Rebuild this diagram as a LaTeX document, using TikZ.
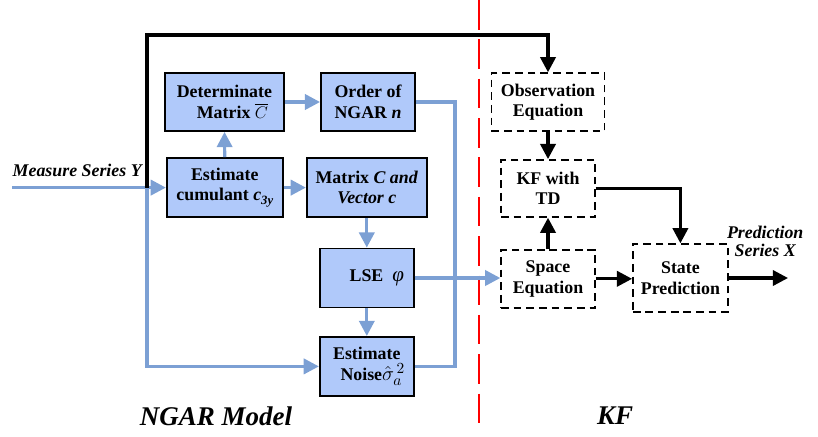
\documentclass[tikz,border=0pt]{standalone}
\usepackage{amsmath,amssymb}
\usepackage{fontspec}
\setmainfont{Liberation Serif}
\usepackage{tikz}
\usetikzlibrary{arrows.meta,positioning,calc}

\definecolor{ngarfill}{RGB}{176,201,250}
\definecolor{ngarline}{RGB}{124,160,212}

\begin{document}
\begin{tikzpicture}[
  font=\bfseries\fontsize{12.7}{14.6}\selectfont,
  >={Triangle[length=3.8mm,width=3.8mm]},
  blk/.style={rectangle, draw=black, line width=1.3pt, fill=ngarfill,
              align=center, inner sep=1pt},
  kfbox/.style={rectangle, draw=black, line width=1pt,
                dash pattern=on 5.5pt off 3.5pt, fill=white,
                align=center, inner sep=1pt},
  bline/.style={->, draw=ngarline, color=ngarline, line width=2.3pt},
  kline/.style={->, draw=black, line width=2.3pt},
  lbl/.style={font=\bfseries\itshape\fontsize{12.7}{12.4}\selectfont, align=center},
  big/.style={font=\bfseries\itshape\fontsize{19.2}{22}\selectfont},
]
\useasboundingbox (0,0) rectangle (20.45,10.9);

% NGAR part
\node[blk, minimum width=2.98cm, minimum height=1.45cm] (det) at (5.61,8.35)
  {Determinate\\ \hspace*{4mm}Matrix $\overline{C}$};
\node[blk, minimum width=2.35cm, minimum height=1.45cm] (ord) at (9.2,8.35)
  {Order of\\ NGAR \textit{n}};
\node[blk, minimum width=2.9cm, minimum height=1.475cm] (est) at (5.62,6.21)
  {Estimate\\ cumulant \textit{c}\raisebox{-0.5ex}{\fontsize{9}{9}\selectfont\itshape 3y}};
\node[blk, minimum width=3.0cm, minimum height=1.475cm] (mat) at (9.17,6.21)
  {Matrix \textit{C and}\\ \textit{Vector c}};
\node[blk, minimum width=2.35cm, minimum height=1.475cm] (lse) at (9.17,3.95)
  {\hspace*{5mm}LSE \ {\mdseries\itshape\fontsize{15}{15}\selectfont φ}};
\node[blk, minimum width=2.35cm, minimum height=1.475cm] (noise) at (9.17,1.74)
  {Estimate\\ \hspace*{3mm}Noise{\fontsize{15}{15}\selectfont$\hat{\sigma}_a^{\,2}$}};

% KF part
\node[kfbox, minimum width=2.83cm, minimum height=1.45cm] (obs) at (13.7,8.35)
  {Observation\\ Equation};
\node[kfbox, minimum width=2.35cm, minimum height=1.43cm] (kf) at (13.7,6.19)
  {KF with\\ TD};
\node[kfbox, minimum width=2.35cm, minimum height=1.45cm] (spc) at (13.7,3.93)
  {Space\\ Equation};
\node[kfbox, minimum width=2.38cm, minimum height=1.7cm] (st) at (17.01,3.95)
  {State\\ Prediction};

% labels
\node[lbl] (msr) at (1.93,6.65) {Measure Series Y};
\node[lbl] (pred) at (19.13,4.87) {Prediction\\ Series X};
\node[big] (ngar) at (5.4,0.5) {NGAR Model};
\node[big] (kfl) at (15.375,0.5) {KF};

\coordinate (yin) at (0.3,6.21);
\coordinate (jn) at (3.675,6.21);
\coordinate (topl) at (3.675,10.025);
\coordinate (rbot) at (11.375,1.74);
\coordinate (xout) at (19.7,3.95);
\coordinate (divtop) at (11.975,10.9);
\coordinate (divbot) at (11.975,0.15);

% divider
\draw[red, line width=2.1pt, dash pattern=on 21pt off 7pt] (divtop) -- (divbot);

% blue connectors
\draw[bline] (yin) -- (est.west);
\draw[bline] (jn) |- (noise.west);
\draw[bline] (est) -- (det);
\draw[bline] (det) -- (ord);
\draw[bline] (est) -- (mat);
\draw[bline] (mat) -- (lse);
\draw[bline] (lse) -- (noise);
\draw[bline,-] (ord.east) -| (rbot) -- (noise.east);
\draw[bline] (lse.east) -- (lse.east -| spc.west);

% black connectors
\draw[kline] (jn) -- (topl) -| (obs.north);
\draw[kline] (obs) -- (kf);
\draw[kline] (spc) -- (kf);
\draw[kline] (kf.east) -| (st.north);
\draw[kline] (spc.east) -- (spc.east -| st.west);
\draw[kline] (st.east) -- (xout);
\end{tikzpicture}
\end{document}
